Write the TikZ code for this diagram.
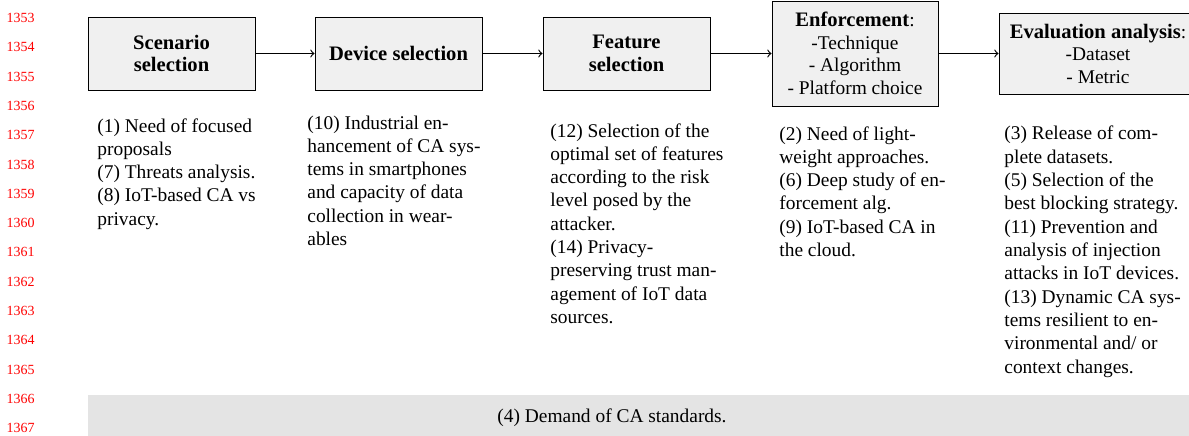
\documentclass[tikz,border=0pt]{standalone}
\usepackage{fontspec}
\setmainfont{Liberation Serif}
\definecolor{boxfill}{HTML}{F0F0F0}
\definecolor{barfill}{HTML}{E4E4E4}
\newcommand{\hd}[1]{{\fontsize{10.6}{12}\selectfont\bfseries #1}}
\begin{document}
\begin{tikzpicture}[x=0.515pt,y=-0.515pt,
  stage/.style={draw=black, line width=0.5pt, fill=boxfill, inner sep=0pt, align=center,
    font=\fontsize{10}{11.6}\selectfont},
  note/.style={anchor=base west, inner sep=0pt, align=left, font=\fontsize{10}{12}\selectfont},
  lineno/.style={anchor=east, inner sep=0pt, text=red, font=\fontsize{7.2}{8}\selectfont},
  flow/.style={->, line width=0.6pt}]
\useasboundingbox (0,0) rectangle (1189,435);
\clip (0,0) rectangle (1189,435);

% line numbers
\foreach \k in {0,...,14}{
  \pgfmathtruncatemacro{\n}{1353+\k}
  \node[lineno] (ln\k) at (35,{18+29.29*\k}) {\n};
}

% stages
\node[stage, minimum width=167*0.515pt, minimum height=73*0.515pt] (s1) at (171.5,53.5) {\hd{Scenario}\\\hd{selection}};
\node[stage, minimum width=167*0.515pt, minimum height=73*0.515pt] (s2) at (398.5,53.5) {\hd{Device selection}};
\node[stage, minimum width=167*0.515pt, minimum height=73*0.515pt] (s3) at (626.5,53.5) {\hd{Feature}\\\hd{selection}};
\node[stage, minimum width=166*0.515pt, minimum height=105*0.515pt] (s4) at (855,53.5) {\hd{Enforcement}:\\-Technique\\- Algorithm\\- Platform choice};
\node[stage, minimum width=198*0.515pt, minimum height=81*0.515pt] (s5) at (1098,53.5) {\hd{Evaluation analysis}:\\-Dataset\\- Metric};

\draw[flow] (s1.east) -- (s2.west);
\draw[flow] (s2.east) -- (s3.west);
\draw[flow] (s3.east) -- (s4.west);
\draw[flow] (s4.east) -- (s5.west);

% notes (anchored at the baseline of their last line)
\node[note] (n1) at (97,225.2) {(1) Need of focused\\proposals\\(7) Threats analysis.\\(8) IoT-based CA vs\\privacy.};
\node[note] (n2) at (307,245.5) {(10) Industrial en-\\hancement of CA sys-\\tems in smartphones\\and capacity of data\\collection in wear-\\ables};
\node[note] (n3) at (550,323.4) {(12) Selection of the\\optimal set of features\\according to the risk\\level posed by the\\attacker.\\(14) Privacy-\\preserving trust man-\\agement of IoT data\\sources.};
\node[note] (n4) at (779,256.5) {(2) Need of light-\\weight approaches.\\(6) Deep study of en-\\forcement alg.\\(9) IoT-based CA in\\the cloud.};
\node[note] (n5) at (1004,373) {(3) Release of com-\\plete datasets.\\(5) Selection of the\\best blocking strategy.\\(11) Prevention and\\analysis of injection\\attacks in IoT devices.\\(13) Dynamic CA sys-\\tems resilient to en-\\vironmental and/ or\\context changes.};

% bottom bar
\fill[barfill] (88,395) rectangle (1200,450);
\node[anchor=base, inner sep=0pt, font=\fontsize{10}{12}\selectfont] (std) at (612,422) {(4) Demand of CA standards.};
\end{tikzpicture}
\end{document}
